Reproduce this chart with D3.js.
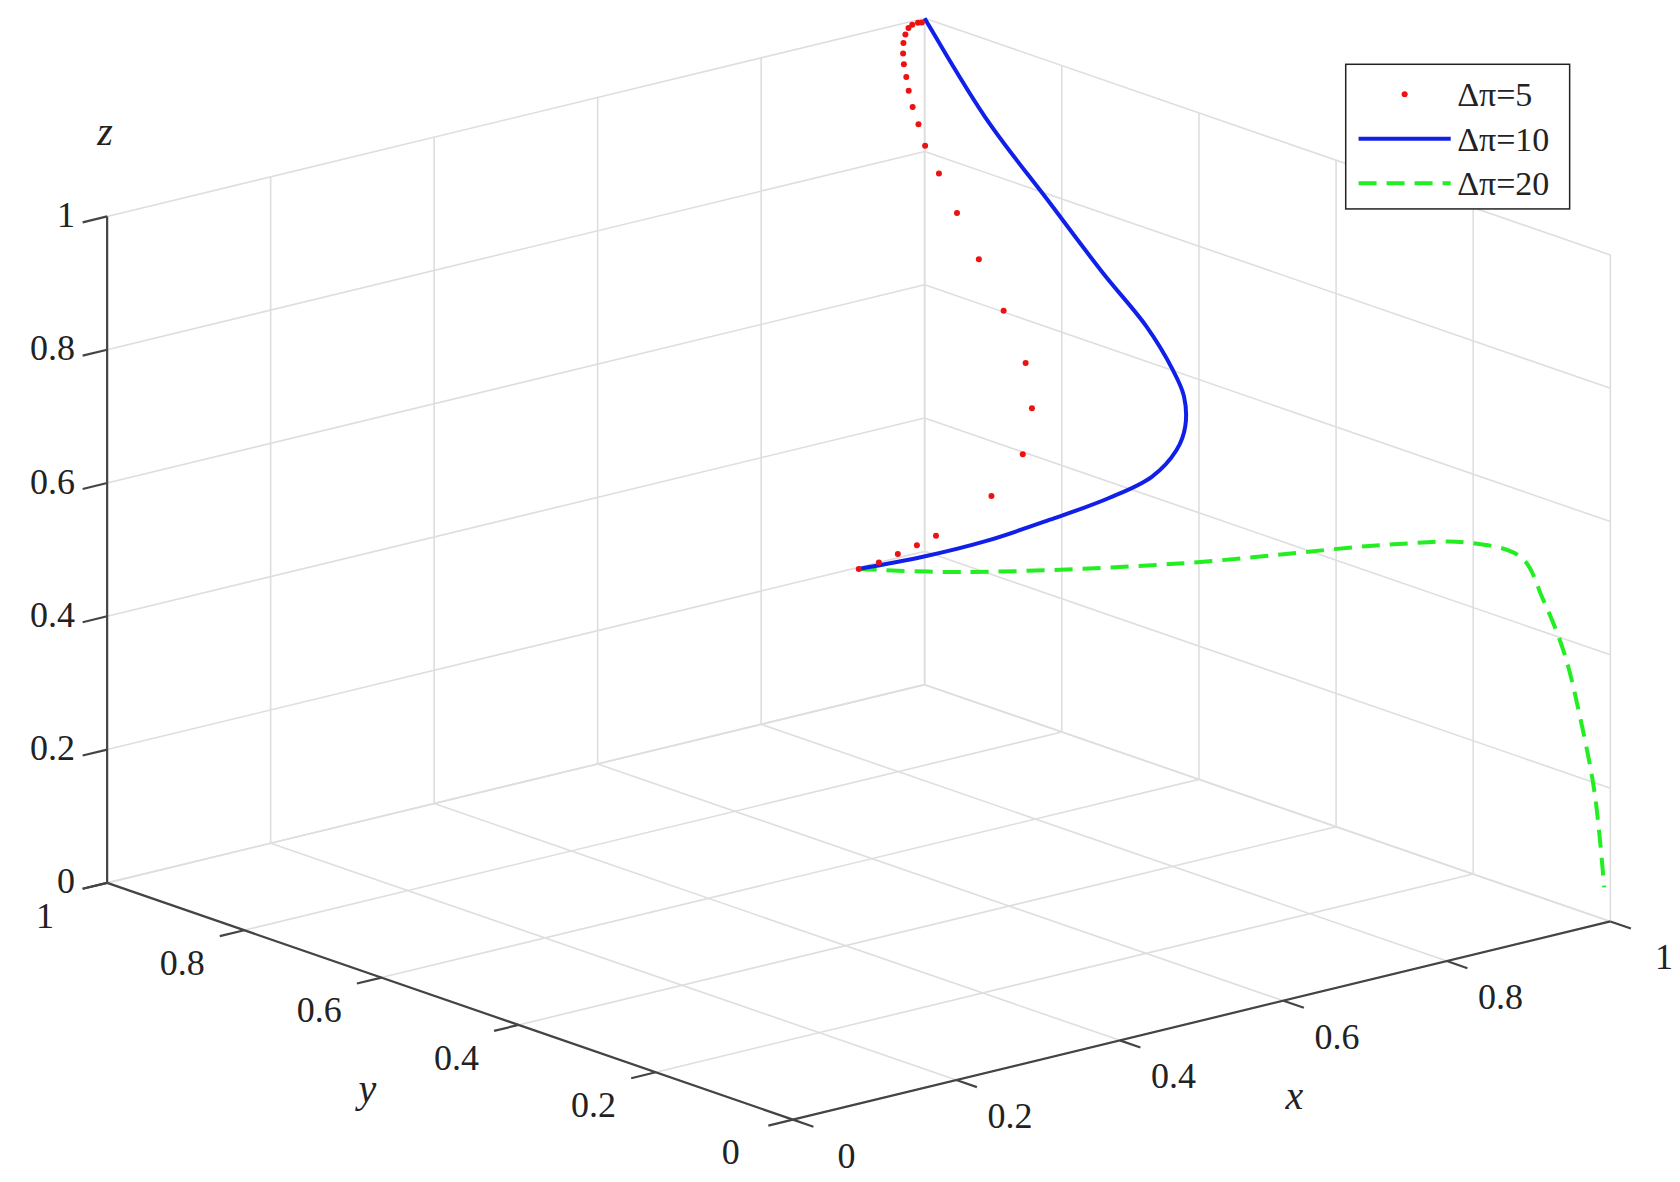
<!DOCTYPE html>
<html><head><meta charset="utf-8">
<script src="https://cdn.jsdelivr.net/npm/d3@7"></script>
<style>body{margin:0;background:#fff}text{font-family:"Liberation Serif","Times New Roman",serif;fill:#222}</style>
</head><body>
<svg id="chart" width="1680" height="1182"></svg>
<script>
const ticks = [0, 0.2, 0.4, 0.6, 0.8, 1];
const tickLabels = ["0", "0.2", "0.4", "0.6", "0.8", "1"];
const seriesNames = ["Δπ=5", "Δπ=10", "Δπ=20"];

// [x, y, z] points
const red = [[0.5,0.5,0.5],[0.528,0.504,0.5],[0.552,0.505,0.505],[0.577,0.507,0.51],[0.597,0.503,0.52],
  [0.664,0.502,0.56],[0.704,0.504,0.61],[0.737,0.530,0.66],[0.757,0.563,0.71],[0.767,0.607,0.77],
  [0.787,0.667,0.82],[0.798,0.712,0.87],[0.812,0.755,0.91],[0.832,0.799,0.93],[0.844,0.823,0.95],
  [0.862,0.853,0.96],[0.879,0.879,0.97],[0.892,0.898,0.98],[0.910,0.923,0.985],[0.925,0.942,0.99],
  [0.943,0.963,0.993],[0.958,0.978,0.996],[0.971,0.989,0.998],[0.979,0.993,0.999],[0.986,0.993,1],[0.989,0.991,1]];
const blue = [[0.5,0.5,0.5],[0.570,0.4915,0.5],[0.635,0.476,0.51],[0.712,0.474,0.52],[0.771,0.459,0.54],
  [0.819,0.453,0.56],[0.851,0.455,0.59],[0.865,0.459,0.62],[0.871,0.468,0.66],[0.863,0.475,0.70],
  [0.864,0.514,0.75],[0.861,0.574,0.81],[0.871,0.663,0.88],[0.906,0.799,0.95],[1,1,1]];
const green = [[0.5,0.5,0.5],[0.569,0.429,0.5],[0.741,0.321,0.5],[0.929,0.231,0.505],[0.98,0.18,0.51],
  [1,0.13,0.50],[1,0.098,0.448],[1,0.067,0.378],[1,0.044,0.29],[1,0.023,0.185],[1,0.009,0.048]];

const s = 1680 / 1568;
const sx = d3.scaleLinear().domain([0, 1]).range([0, 1]);
const O = [740 * s, 1045 * s], ex = [763 * s, -185 * s], ey = [-640 * s, -221 * s], ez = [0, -622 * s];
function P(x, y, z) {
  const a = sx(x), b = sx(y), c = sx(z);
  return [O[0] + a * ex[0] + b * ey[0] + c * ez[0], O[1] + a * ex[1] + b * ey[1] + c * ez[1]];
}
const svg = d3.select("#chart");
const line = d3.line();
const grid = svg.append("g").attr("stroke", "#dedede").attr("stroke-width", 1.6).attr("fill", "none");
function seg(g, p, q) { g.append("path").attr("d", line([P(...p), P(...q)])); }
ticks.forEach(t => {
  seg(grid, [t, 0, 0], [t, 1, 0]); seg(grid, [0, t, 0], [1, t, 0]);   // floor
  seg(grid, [t, 1, 0], [t, 1, 1]); seg(grid, [0, 1, t], [1, 1, t]);   // back-left wall
  seg(grid, [1, t, 0], [1, t, 1]); seg(grid, [1, 0, t], [1, 1, t]);   // back-right wall
});
const ax = svg.append("g").attr("stroke", "#444").attr("stroke-width", 2.2).attr("fill", "none");
seg(ax, [0, 1, 0], [0, 1, 1]); seg(ax, [0, 0, 0], [0, 1, 0]); seg(ax, [0, 0, 0], [1, 0, 0]);
const tl = 0.03;
ticks.forEach((t, i) => {
  seg(ax, [0, 1, t], [-tl, 1, t]);
  seg(ax, [0, t, 0], [-tl, t, 0]);
  seg(ax, [t, 0, 0], [t, -tl, 0]);
  const pz = P(0, 1, t);
  svg.append("text").attr("x", 70 * s).attr("y", pz[1] - 2).attr("text-anchor", "end").attr("dy", "0.35em")
    .attr("font-size", 36).text(tickLabels[i]);
  const py = P(0, t, 0);
  svg.append("text").attr("x", py[0] - 58 * s).attr("y", py[1] + 30 * s).attr("text-anchor", "middle").attr("dy", "0.35em")
    .attr("font-size", 36).text(tickLabels[i]);
  const px = P(t, 0, 0);
  svg.append("text").attr("x", px[0] + 50 * s).attr("y", px[1] + 33 * s).attr("text-anchor", "middle").attr("dy", "0.35em")
    .attr("font-size", 36).text(tickLabels[i]);
});
[["x", 1208, 1022], ["y", 343, 1015], ["z", 98, 122]].forEach(([t, x, y]) =>
  svg.append("text").attr("x", x * s).attr("y", y * s).attr("text-anchor", "middle").attr("dy", "0.35em")
    .attr("font-size", 40).attr("font-style", "italic").text(t));

const lp = d3.line().x(d => P(...d)[0]).y(d => P(...d)[1]).curve(d3.curveCatmullRom);
svg.append("path").attr("d", lp(green)).attr("fill", "none").attr("stroke", "#22ee22").attr("stroke-width", 4).attr("stroke-dasharray", "18,10");
svg.append("path").attr("d", lp(blue)).attr("fill", "none").attr("stroke", "#1020e8").attr("stroke-width", 4);
svg.selectAll("circle.r").data(red).enter().append("circle").attr("class", "r")
  .attr("cx", d => P(...d)[0]).attr("cy", d => P(...d)[1]).attr("r", 3).attr("fill", "#ee1111");

// legend
const lg = svg.append("g").attr("transform", `translate(${1256 * s},${60 * s})`);
lg.append("rect").attr("width", 209 * s).attr("height", 135 * s).attr("fill", "#fff").attr("stroke", "#222").attr("stroke-width", 1.5);
seriesNames.forEach((n, i) => {
  const y = (28 + i * 41.5) * s;
  if (i === 0) lg.append("circle").attr("cx", 55 * s).attr("cy", y).attr("r", 3).attr("fill", "#ee1111");
  else lg.append("line").attr("x1", 12 * s).attr("x2", 98 * s).attr("y1", y).attr("y2", y)
    .attr("stroke", i === 1 ? "#1020e8" : "#22ee22").attr("stroke-width", 4).attr("stroke-dasharray", i === 2 ? "18,10" : null);
  lg.append("text").attr("x", 104 * s).attr("y", y).attr("dy", "0.35em").attr("font-size", 34).text(n);
});
</script>
</body></html>
